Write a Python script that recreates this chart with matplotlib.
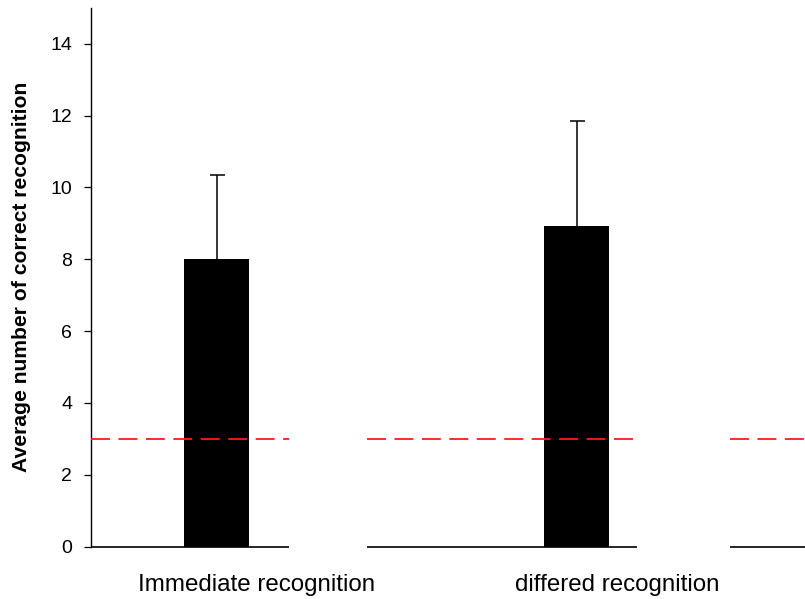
import matplotlib
matplotlib.use("Agg")
import matplotlib.pyplot as plt

plt.rcParams["font.family"] = ["Liberation Sans", "DejaVu Sans"]

# mean correct recognitions and upper error (SD)
conditions = ["Immediate recognition", "differed recognition"]
means = [8.0, 8.93]
errors = [2.35, 2.93]
chance_level = 3

# broken baseline pieces (x in category units)
baseline_pieces = [(-0.35, 0.2), (0.417, 1.167), (1.426, 1.64)]

fig = plt.figure(figsize=(8.05, 5.99), dpi=100)
ax = fig.add_axes([0.1127, 0.0876, 0.8873, 0.8991])

x = list(range(len(means)))
# bars drawn over the error bars so only the upper whisker shows
ax.errorbar(x, means, yerr=errors, fmt="none", ecolor="black",
            elinewidth=1.1, capsize=5.4, capthick=1.1, zorder=1)
ax.bar(x, means, width=0.18, color="black", zorder=2)

for x0, x1 in baseline_pieces:
    ax.plot([x0, x1], [0, 0], color="black", lw=1.2, clip_on=False,
            solid_capstyle="butt", zorder=4)
    ax.plot([x0, x1], [chance_level, chance_level], color="#ff1a1a", lw=1.3,
            dashes=(10.5, 4.7), clip_on=False, zorder=4)

ax.set_xlim(-0.35, 1.634)
ax.set_ylim(0, 15)
ax.set_yticks(range(0, 15, 2))
ax.tick_params(axis="y", direction="out", length=5.3, width=0.9, pad=8,
               labelsize=14)

# category labels sit to the right of each bar
ax.set_xticks([p + 0.112 for p in x])
ax.set_xticklabels(conditions, fontsize=17.4)
ax.tick_params(axis="x", length=0, pad=19.5)

for side in ["top", "right", "bottom"]:
    ax.spines[side].set_visible(False)
ax.spines["left"].set_linewidth(1.0)

ax.set_ylabel("Average number of correct recognition", fontsize=15.2,
              fontweight="bold")
ax.yaxis.set_label_coords(-0.083, 0.5)

fig.savefig("out.png", dpi=100)
